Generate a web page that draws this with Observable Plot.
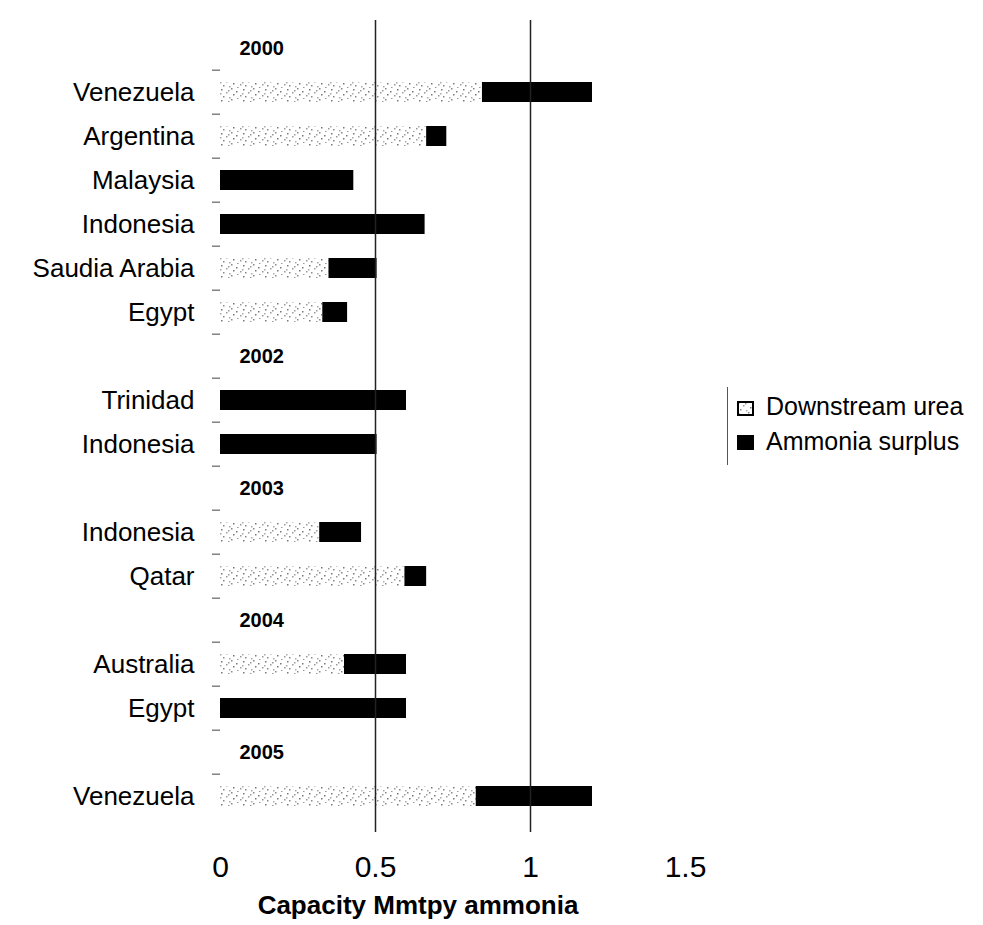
<!DOCTYPE html>
<html><head><meta charset="utf-8">
<script src="https://cdn.jsdelivr.net/npm/d3@7"></script>
<script src="https://cdn.jsdelivr.net/npm/@observablehq/plot@0.6"></script>
<style>
body{margin:0;background:#fff;font-family:"Liberation Sans",Arial,sans-serif;}
#wrap{position:relative;width:983px;height:925px;}
.legend{position:absolute;left:727px;top:387px;width:250px;height:78px;border-left:1px solid #555;}
.sw{position:absolute;left:9px;}
.lt{position:absolute;left:38px;font-size:25px;line-height:28px;white-space:nowrap;color:#000;}
</style></head><body><div id="wrap"></div>
<script>
// ---- data ----
const years = ["2000", "2002", "2003", "2004", "2005"];
const countries = ["Venezuela", "Argentina", "Malaysia", "Indonesia", "Saudia Arabia", "Egypt",
  "Trinidad", "Indonesia", "Indonesia", "Qatar", "Australia", "Egypt", "Venezuela"];
const countryYears = ["2000", "2000", "2000", "2000", "2000", "2000",
  "2002", "2002", "2003", "2003", "2004", "2004", "2005"];
const downstreamUrea = [0.845, 0.665, 0, 0, 0.35, 0.33, 0, 0, 0.32, 0.595, 0.40, 0, 0.825];
const ammoniaSurplus = [0.355, 0.065, 0.43, 0.66, 0.155, 0.08, 0.6, 0.505, 0.135, 0.07, 0.2, 0.6, 0.375];
const seriesNames = ["Downstream urea", "Ammonia surplus"];
const xTicks = [0, 0.5, 1, 1.5];
const xTitle = "Capacity Mmtpy ammonia";

// ---- build rows ----
const rowKeys = [];
const rowLabel = new Map();
years.forEach(y => {
  rowKeys.push(y); rowLabel.set(y, "");
  countries.forEach((c, i) => {
    if (countryYears[i] === y) { const k = y + "|" + c; rowKeys.push(k); rowLabel.set(k, c); }
  });
});
const rows = [];
countries.forEach((c, i) => {
  const k = countryYears[i] + "|" + c;
  rows.push({key: k, series: seriesNames[0], value: downstreamUrea[i]});
  rows.push({key: k, series: seriesNames[1], value: ammoniaSurplus[i]});
});

const W = 983, H = 925, mT = 20, mB = 101, mL = 220, mR = 298;
const step = (H - mT - mB) / rowKeys.length;

const chart = Plot.plot({
  width: W, height: H, marginTop: mT, marginBottom: mB, marginLeft: mL, marginRight: mR,
  style: {fontFamily: '"Liberation Sans", Arial, sans-serif', background: "transparent", color: "#000", overflow: "visible"},
  x: {domain: [0, 1.5], axis: null},
  y: {domain: rowKeys, paddingInner: 0.55, paddingOuter: 0.275, axis: null},
  color: {domain: seriesNames, range: ["url(#speckle)", "#000"]},
  marks: [
    Plot.barX(rows, Plot.stackX({y: "key", x: "value", fill: "series", order: seriesNames})),
    Plot.ruleX([0.5, 1], {stroke: "#222", strokeWidth: 1.5, insetBottom: -8}),
    Plot.axisX(xTicks, {tickSize: 0, tickPadding: 31, fontSize: 30, tickFormat: d => String(d), label: null}),
    Plot.axisY({tickSize: 0, tickPadding: 26, fontSize: 26, tickFormat: k => rowLabel.get(k), label: null}),
    Plot.axisY(rowKeys.slice(1), {tickSize: 8, fill: "none", label: null, dy: -step / 2, stroke: "#444"}),
    Plot.text(years, {y: d => d, text: d => d, frameAnchor: "left", dx: 19, textAnchor: "start", fontSize: 20, fontWeight: "bold"}),
    Plot.text([xTitle], {frameAnchor: "bottom", dx: -35, dy: 81, lineAnchor: "middle", fontSize: 26, fontWeight: "bold"})
  ]
});

// speckle pattern for the "Downstream urea" segments
const svg = d3.select(chart);
const pat = svg.insert("defs", ":first-child").append("pattern")
  .attr("id", "speckle").attr("patternUnits", "userSpaceOnUse").attr("width", 22).attr("height", 11);
pat.append("rect").attr("width", 22).attr("height", 11).attr("fill", "#fff");
const dots = [[1,1,"#777"],[6,4,"#999"],[11,0,"#888"],[16,3,"#777"],[20,7,"#999"],[3,8,"#888"],
  [9,9,"#aaa"],[13,6,"#777"],[17,10,"#999"],[0,5,"#aaa"],[8,2,"#999"]];
dots.forEach(([x, y, c]) => pat.append("rect").attr("x", x).attr("y", y).attr("width", 1.5).attr("height", 1.5).attr("fill", c));

const wrap = document.getElementById("wrap");
wrap.appendChild(chart);

// legend
const legend = document.createElement("div");
legend.className = "legend";
legend.innerHTML =
  `<svg class="sw" style="top:14px" width="17" height="15"><rect x="1" y="1" width="15" height="13" fill="url(#speckle)" stroke="#000" stroke-width="2"/></svg>` +
  `<div class="lt" style="top:5px">${seriesNames[0]}</div>` +
  `<svg class="sw" style="top:48px" width="17" height="15"><rect width="17" height="15" fill="#000"/></svg>` +
  `<div class="lt" style="top:40px">${seriesNames[1]}</div>`;
wrap.appendChild(legend);
</script></body></html>
